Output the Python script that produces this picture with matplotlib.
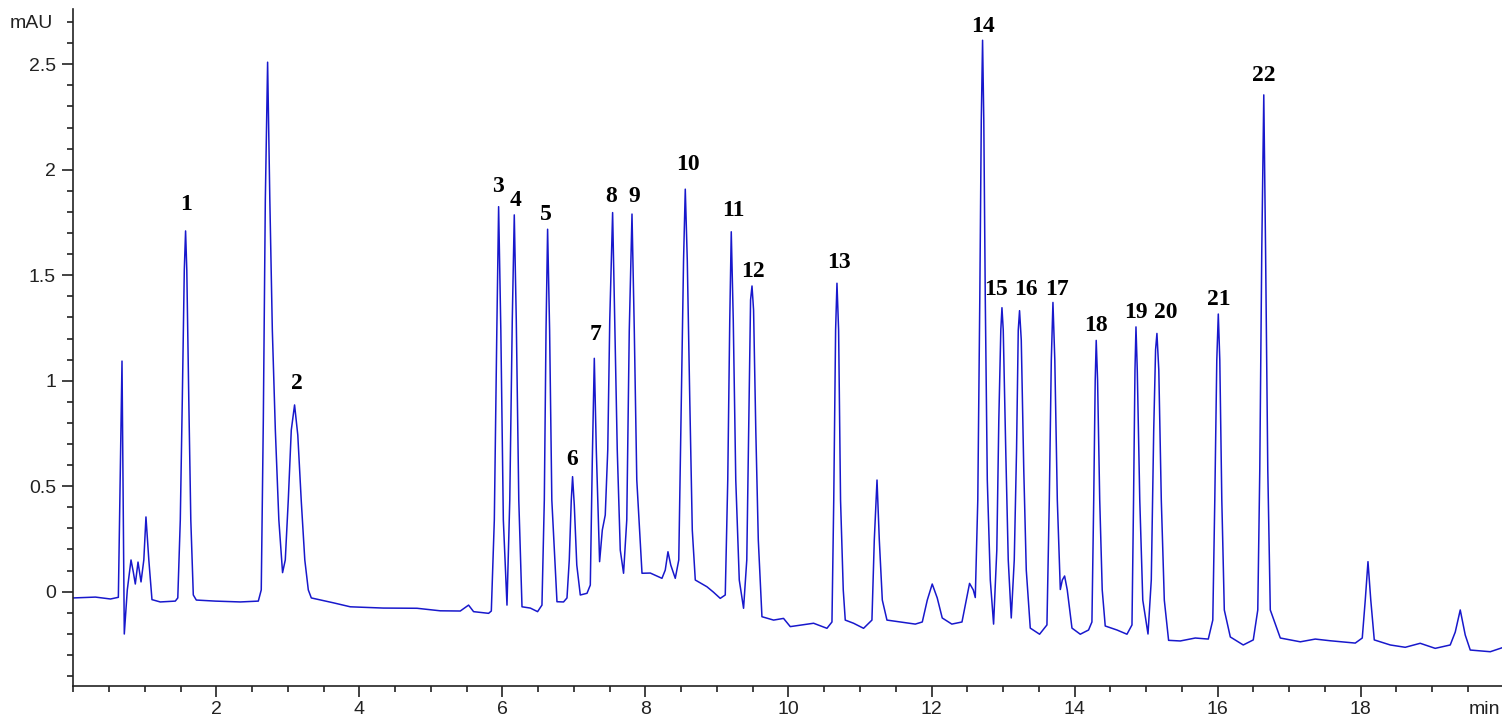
import matplotlib
matplotlib.use('Agg')
import matplotlib.pyplot as plt
from matplotlib.ticker import MultipleLocator, FixedLocator, FormatStrFormatter

# chromatogram trace (time in min, signal in mAU)
time_min = [
    0.000, 0.310, 0.520, 0.630, 0.681, 0.713, 0.755, 0.807, 0.839, 0.867, 0.905, 0.947,
    0.986, 1.016, 1.056, 1.100, 1.216, 1.426,
    1.461, 1.496, 1.524, 1.552, 1.570, 1.587, 1.615, 1.643, 1.678, 1.720, 1.985, 2.335, 2.587,
    2.628, 2.657, 2.685, 2.717, 2.748, 2.783, 2.825, 2.874, 2.926,
    2.964, 3.006, 3.048, 3.094, 3.139, 3.188, 3.237, 3.286, 3.328,
    3.635, 3.873, 4.334, 4.806, 5.131, 5.411, 5.527, 5.597, 5.807,
    5.845, 5.887, 5.922, 5.947, 5.978, 6.013, 6.064,
    6.103, 6.138, 6.166, 6.194, 6.229, 6.274, 6.390, 6.492,
    6.553, 6.586, 6.610, 6.632, 6.660, 6.691, 6.763, 6.855,
    6.903, 6.935, 6.963, 6.981, 7.005, 7.040, 7.089, 7.183,
    7.229, 7.257, 7.285, 7.313, 7.359, 7.397, 7.438,
    7.473, 7.501, 7.541, 7.571, 7.606, 7.648, 7.694,
    7.739, 7.774, 7.812, 7.844, 7.879, 7.952, 8.068, 8.231,
    8.277, 8.315, 8.354, 8.417,
    8.466, 8.501, 8.533, 8.557, 8.585, 8.620, 8.655, 8.697, 8.860, 8.949, 9.046,
    9.116, 9.151, 9.179, 9.200, 9.228, 9.263, 9.312, 9.372,
    9.417, 9.445, 9.470, 9.490, 9.512, 9.543, 9.578, 9.629, 9.792, 9.931, 10.025, 10.351, 10.538,
    10.608, 10.633, 10.659, 10.678, 10.701, 10.728, 10.766, 10.794, 10.910, 11.050,
    11.167, 11.200, 11.238, 11.270, 11.312, 11.377, 11.563, 11.773,
    11.871, 11.941, 12.010, 12.080, 12.150, 12.284, 12.426, 12.486, 12.532, 12.584, 12.612,
    12.647, 12.675, 12.696, 12.714, 12.731, 12.752, 12.780, 12.822, 12.868,
    12.913, 12.941, 12.969, 12.985, 13.003, 13.038, 13.073, 13.115,
    13.157, 13.189, 13.213, 13.231, 13.255, 13.290, 13.325, 13.381, 13.511,
    13.614, 13.647, 13.675, 13.698, 13.724, 13.759, 13.801, 13.829, 13.861, 13.898, 13.964,
    14.080, 14.196,
    14.243, 14.268, 14.289, 14.303, 14.322, 14.352, 14.387, 14.429, 14.593, 14.733,
    14.803, 14.825, 14.845, 14.859, 14.877, 14.912, 14.954, 15.027,
    15.073, 15.107, 15.133, 15.152, 15.178, 15.213, 15.255, 15.315, 15.478, 15.688, 15.870,
    15.933, 15.961, 15.989, 16.010, 16.031, 16.059, 16.094, 16.178, 16.359, 16.499,
    16.562, 16.590, 16.618, 16.646, 16.671, 16.702, 16.737, 16.877, 17.157, 17.366, 17.575, 17.925,
    18.023, 18.065, 18.103, 18.142, 18.191, 18.415, 18.624, 18.833, 19.043, 19.253,
    19.323, 19.393, 19.463, 19.533, 19.813, 19.980,
]
signal_mau = [
    -0.030, -0.026, -0.035, -0.027, 1.093, -0.201, 0.008, 0.150, 0.093, 0.036, 0.140, 0.046,
    0.150, 0.354, 0.150, -0.038, -0.049, -0.045,
    -0.030, 0.339, 0.908, 1.525, 1.710, 1.525, 0.908, 0.339, -0.016, -0.040, -0.045, -0.049, -0.045,
    0.008, 0.814, 1.857, 2.510, 1.857, 1.240, 0.766, 0.340, 0.090,
    0.150, 0.434, 0.766, 0.885, 0.742, 0.427, 0.150, 0.008, -0.030,
    -0.053, -0.072, -0.078, -0.079, -0.091, -0.092, -0.064, -0.095, -0.103,
    -0.092, 0.340, 1.240, 1.825, 1.240, 0.340, -0.064,
    0.434, 1.287, 1.786, 1.287, 0.434, -0.072, -0.078, -0.095,
    -0.064, 0.434, 1.240, 1.718, 1.240, 0.434, -0.048, -0.049,
    -0.030, 0.150, 0.434, 0.545, 0.411, 0.126, -0.016, -0.008,
    0.031, 0.624, 1.106, 0.671, 0.142, 0.292, 0.363,
    0.671, 1.287, 1.797, 1.287, 0.671, 0.197, 0.087,
    0.340, 1.240, 1.790, 1.240, 0.529, 0.087, 0.088, 0.063,
    0.102, 0.189, 0.126, 0.063,
    0.150, 0.908, 1.572, 1.908, 1.572, 0.908, 0.292, 0.055, 0.023, -0.002, -0.032,
    -0.016, 0.529, 1.287, 1.706, 1.287, 0.529, 0.055, -0.079,
    0.150, 0.814, 1.383, 1.449, 1.335, 0.766, 0.245, -0.119, -0.135, -0.127, -0.166, -0.150, -0.174,
    -0.144, 0.434, 1.240, 1.462, 1.240, 0.434, 0.008, -0.135, -0.150, -0.174,
    -0.135, 0.245, 0.529, 0.245, -0.040, -0.135, -0.144, -0.154,
    -0.144, -0.040, 0.036, -0.030, -0.125, -0.154, -0.144, -0.040, 0.039, 0.008, -0.028,
    0.434, 1.383, 2.236, 2.614, 2.236, 1.383, 0.529, 0.055, -0.154,
    0.197, 0.814, 1.240, 1.346, 1.240, 0.671, 0.150, -0.125,
    0.150, 0.671, 1.240, 1.332, 1.193, 0.577, 0.102, -0.173, -0.202,
    -0.158, 0.434, 1.098, 1.371, 1.098, 0.434, 0.010, 0.055, 0.074, 0.008, -0.173,
    -0.202, -0.182,
    -0.144, 0.434, 1.003, 1.191, 1.003, 0.434, 0.008, -0.163, -0.182, -0.202,
    -0.158, 0.434, 1.051, 1.255, 1.051, 0.434, -0.040, -0.201,
    0.055, 0.766, 1.147, 1.224, 1.051, 0.434, -0.040, -0.231, -0.234, -0.220, -0.225,
    -0.135, 0.434, 1.098, 1.316, 1.098, 0.434, -0.087, -0.215, -0.253, -0.229,
    -0.087, 0.577, 1.620, 2.355, 1.620, 0.577, -0.087, -0.220, -0.238, -0.225, -0.233, -0.244,
    -0.220, -0.040, 0.142, -0.040, -0.229, -0.253, -0.264, -0.245, -0.269, -0.253,
    -0.192, -0.087, -0.206, -0.277, -0.285, -0.266,
]

# peak numbers and where their labels sit
peak_labels = [str(i) for i in range(1, 23)]
label_time = [1.580, 3.132, 5.942, 6.180, 6.614, 6.977, 7.299, 7.523, 7.845, 8.600, 9.229,
              9.508, 10.710, 12.724, 12.905, 13.325, 13.758, 14.303, 14.863, 15.282, 16.023, 16.639]
label_mau = [1.833, 0.989, 1.919, 1.852, 1.790, 0.624, 1.217, 1.871, 1.871, 2.023, 1.805,
             1.520, 1.558, 2.677, 1.430, 1.430, 1.430, 1.264, 1.325, 1.325, 1.387, 2.445]

x_major = [2, 4, 6, 8, 10, 12, 14, 16, 18]
y_major = [0, 0.5, 1, 1.5, 2, 2.5]

plt.rcParams['font.family'] = ['Liberation Sans', 'DejaVu Sans']

fig = plt.figure(figsize=(15.02, 7.22), dpi=100)
ax = fig.add_axes([0.0488, 0.0503, 0.9523, 0.9366])

ax.plot(time_min, signal_mau, color='#1818cc', lw=1.1)

for lab, t, s in zip(peak_labels, label_time, label_mau):
    ax.text(t, s, lab, ha='center', va='center', fontsize=17, fontweight='bold',
            family='Liberation Serif', color='black')

ax.set_xlim(0, 20)
ax.set_ylim(-0.446, 2.76)

ax.spines['top'].set_visible(False)
ax.spines['right'].set_visible(False)
for sp in ['left', 'bottom']:
    ax.spines[sp].set_linewidth(1.2)
    ax.spines[sp].set_color('#222222')

ax.xaxis.set_major_locator(FixedLocator(x_major))
ax.xaxis.set_minor_locator(MultipleLocator(0.5))
ax.yaxis.set_major_locator(FixedLocator(y_major))
ax.yaxis.set_minor_locator(MultipleLocator(0.1))
ax.yaxis.set_major_formatter(FormatStrFormatter('%g'))

ax.tick_params(which='major', length=8, width=1.2, color='#222222', labelsize=14, labelcolor='#222222')
ax.tick_params(which='minor', length=4.3, width=1.2, color='#222222')
ax.tick_params(axis='y', which='major', pad=4.5)
ax.tick_params(axis='x', which='major', pad=3)

fig.text(53 / 1502, 1 - 24 / 722, 'mAU', ha='right', va='center', fontsize=14, color='#222222')
fig.text(1500 / 1502, 1 - 709 / 722, 'min', ha='right', va='center', fontsize=14, color='#222222')

fig.savefig('out.png', dpi=100)
